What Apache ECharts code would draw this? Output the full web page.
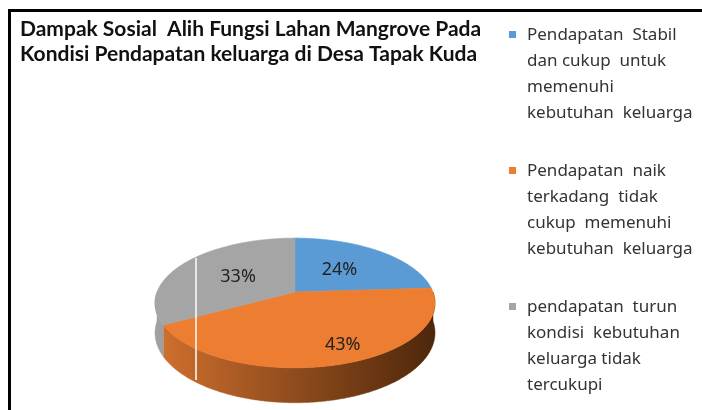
<!DOCTYPE html>
<html>
<head>
<meta charset="utf-8">
<script src="https://cdn.jsdelivr.net/npm/echarts@6/dist/echarts.min.js"></script>
<style>
  html, body { margin: 0; padding: 0; background: #fff; }
  #chart { width: 702px; height: 410px; }
</style>
</head>
<body>
<div id="chart"></div>
<script>
// data
var titleLines = [
  'Dampak Sosial  Alih Fungsi Lahan Mangrove Pada',
  'Kondisi Pendapatan keluarga di Desa Tapak Kuda'
];
var categories = [
  'Pendapatan  Stabil\ndan cukup  untuk\nmemenuhi\nkebutuhan  keluarga',
  'Pendapatan  naik\nterkadang  tidak\ncukup  memenuhi\nkebutuhan  keluarga',
  'pendapatan  turun\nkondisi  kebutuhan\nkeluarga tidak\ntercukupi'
];
var values = [24, 43, 33];

var colors = ['#5b9bd5', '#ed7d31', '#a5a5a5'];
var sideColors = [['#41719c', '#2a4a66'], ['#d0702e', '#4e270b'], ['#a0a0a0', '#707070']];

// tilted pie geometry (pseudo 3d, like the excel one)
var cx = 295, cy = 292, rx = 138, ry = 63, persp = 0.169, depth = 29;

function proj(deg, r, h) {
  var a = deg * Math.PI / 180;
  var u = r * Math.cos(a), v = r * Math.sin(a);
  var w = 1 + persp * v;
  return [cx + rx * u / w, cy + (-ry * v + depth * h) / w];
}

function arcPoints(from, to, h) {
  var pts = [];
  var n = Math.max(2, Math.ceil(Math.abs(from - to) / 0.5));
  for (var s = 0; s <= n; s++) {
    pts.push(proj(from + (to - from) * s / n, 1, h));
  }
  return pts;
}

function makeRender(i) {
  return function (params, api) {
    var total = 0, before = 0;
    for (var j = 0; j < values.length; j++) {
      total += values[j];
      if (j < i) before += values[j];
    }
    var a0 = 90 - before / total * 360;
    var a1 = a0 - api.value(0) / total * 360;
    var children = [];

    // side wall, only the front half is seen
    for (var m = -2; m <= 2; m++) {
      var lo = Math.max(a1, -180 + 360 * m);
      var hi = Math.min(a0, 360 * m);
      if (lo < hi) {
        var pts = arcPoints(hi, lo, 0).concat(arcPoints(lo, hi, 1));
        var grad = new echarts.graphic.LinearGradient(cx - rx, 0, cx + rx, 0, [
          { offset: 0, color: sideColors[i][0] },
          { offset: 1, color: sideColors[i][1] }
        ], true);
        children.push({
          type: 'polygon',
          shape: { points: pts },
          style: { fill: grad, stroke: grad, lineWidth: 0.5 }
        });
      }
    }

    // top face
    var top = [proj(0, 0, 0)].concat(arcPoints(a0, a1, 0));
    children.push({
      type: 'polygon',
      shape: { points: top },
      style: { fill: colors[i], stroke: colors[i], lineWidth: 0.6 }
    });

    // label
    var mid = (a0 + a1) / 2;
    var big = api.value(0) === Math.max.apply(null, values);
    var lp = proj(big ? mid + 6 : mid, big ? 0.8 : 0.5, 0);
    children.push({
      type: 'text',
      style: {
        text: Math.round(api.value(0) / total * 100) + '%',
        x: lp[0], y: lp[1],
        align: 'center', verticalAlign: 'middle',
        fontFamily: 'Noto Sans', fontSize: 18, fill: '#222'
      }
    });

    return { type: 'group', children: children };
  };
}

var myChart = echarts.init(document.getElementById('chart'));

var series = [];
for (var i = 0; i < values.length; i++) {
  series.push({
    name: categories[i],
    type: 'custom',
    coordinateSystem: 'none',
    silent: true,
    itemStyle: { color: colors[i] },
    renderItem: makeRender(i),
    data: [values[i]]
  });
}

var option = {
  backgroundColor: '#fff',
  animation: false,
  title: {
    text: titleLines.join('\n'),
    left: 20,
    top: 17,
    padding: 0,
    textStyle: {
      fontFamily: 'Lato',
      fontWeight: 'bold',
      fontSize: 21,
      lineHeight: 25,
      color: '#111'
    }
  },
  legend: {
    data: categories,
    orient: 'vertical',
    left: 509,
    top: 22,
    padding: 0,
    itemWidth: 13,
    itemHeight: 104,
    itemGap: 32,
    selectedMode: false,
    icon: 'path://M0,0M0,9h7v7h-7zM13,104',
    textStyle: {
      fontFamily: 'Noto Sans',
      fontSize: 17,
      lineHeight: 26,
      color: '#333'
    }
  },
  graphic: [
    { type: 'rect', shape: { x: 8, y: 9, width: 694, height: 3 }, style: { fill: '#000' } },
    { type: 'rect', shape: { x: 8, y: 9, width: 3, height: 401 }, style: { fill: '#000' } },
    { type: 'line', z: 100, shape: { x1: 196, y1: 258, x2: 196, y2: 380 }, style: { stroke: 'rgba(255,255,255,0.75)', lineWidth: 2 } }
  ],
  series: series
};

myChart.setOption(option);
</script>
</body>
</html>
